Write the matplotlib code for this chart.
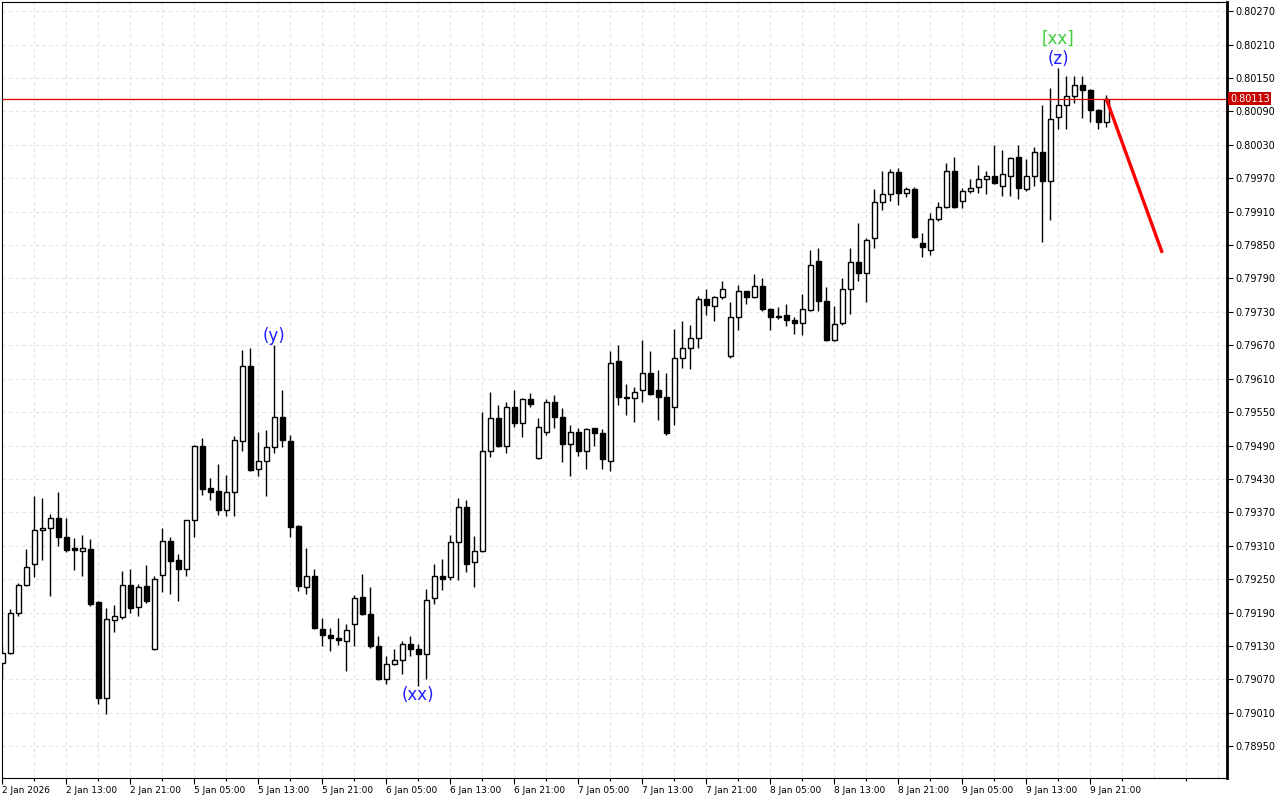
import numpy as np
import matplotlib
matplotlib.use("Agg")
import matplotlib.pyplot as plt
import matplotlib.transforms as mtransforms

# hourly bars, 2 Jan 2026 05:00 .. 9 Jan 2026 23:00
opens = [0.79100, 0.79118, 0.79189, 0.79239, 0.79278, 0.79339, 0.79341, 0.79359, 0.79325, 0.79305,
         0.79300, 0.79304, 0.79208, 0.79036, 0.79176, 0.79182, 0.79239, 0.79199, 0.79237, 0.79124,
         0.79257, 0.79318, 0.79284, 0.79268, 0.79357, 0.79489, 0.79413, 0.79408, 0.79374, 0.79406,
         0.79498, 0.79632, 0.79447, 0.79462, 0.79487, 0.79541, 0.79498, 0.79345, 0.79236, 0.79255,
         0.79160, 0.79149, 0.79144, 0.79138, 0.79169, 0.79217, 0.79187, 0.79129, 0.79071, 0.79097,
         0.79104, 0.79133, 0.79124, 0.79115, 0.79216, 0.79255, 0.79253, 0.79316, 0.79379, 0.79280,
         0.79300, 0.79481, 0.79539, 0.79489, 0.79560, 0.79530, 0.79573, 0.79467, 0.79515, 0.79568,
         0.79541, 0.79492, 0.79515, 0.79480, 0.79521, 0.79512, 0.79463, 0.79641, 0.79577, 0.79575,
         0.79589, 0.79621, 0.79589, 0.79578, 0.79560, 0.79647, 0.79666, 0.79684, 0.79754, 0.79740,
         0.79756, 0.79650, 0.79720, 0.79767, 0.79756, 0.79776, 0.79736, 0.79722, 0.79724, 0.79715,
         0.79710, 0.79733, 0.79821, 0.79749, 0.79679, 0.79710, 0.79772, 0.79819, 0.79799, 0.79862,
         0.79927, 0.79941, 0.79981, 0.79943, 0.79950, 0.79853, 0.79842, 0.79896, 0.79918, 0.79983,
         0.79929, 0.79948, 0.79954, 0.79968, 0.79975, 0.79956, 0.79975, 0.80008, 0.79950, 0.79974,
         0.80018, 0.79965, 0.80081, 0.80101, 0.80117, 0.80137, 0.80128, 0.80092, 0.80072]
highs = [0.79126, 0.79196, 0.79243, 0.79304, 0.79400, 0.79396, 0.79367, 0.79406, 0.79359, 0.79323,
         0.79329, 0.79322, 0.79210, 0.79198, 0.79203, 0.79265, 0.79268, 0.79242, 0.79275, 0.79255,
         0.79341, 0.79325, 0.79295, 0.79357, 0.79491, 0.79503, 0.79431, 0.79457, 0.79437, 0.79507,
         0.79661, 0.79665, 0.79514, 0.79517, 0.79671, 0.79589, 0.79508, 0.79348, 0.79305, 0.79269,
         0.79181, 0.79163, 0.79180, 0.79169, 0.79221, 0.79260, 0.79235, 0.79147, 0.79111, 0.79124,
         0.79138, 0.79147, 0.79133, 0.79233, 0.79277, 0.79286, 0.79330, 0.79395, 0.79392, 0.79327,
         0.79551, 0.79587, 0.79562, 0.79568, 0.79589, 0.79575, 0.79584, 0.79539, 0.79574, 0.79580,
         0.79557, 0.79526, 0.79521, 0.79521, 0.79522, 0.79519, 0.79659, 0.79670, 0.79600, 0.79595,
         0.79679, 0.79659, 0.79625, 0.79621, 0.79700, 0.79713, 0.79706, 0.79758, 0.79772, 0.79758,
         0.79785, 0.79747, 0.79778, 0.79768, 0.79798, 0.79790, 0.79737, 0.79738, 0.79744, 0.79720,
         0.79762, 0.79841, 0.79844, 0.79774, 0.79740, 0.79790, 0.79844, 0.79889, 0.79862, 0.79950,
         0.79984, 0.79986, 0.79988, 0.79955, 0.79954, 0.79871, 0.79907, 0.79927, 0.79997, 0.80009,
         0.79952, 0.79968, 0.79993, 0.79983, 0.80029, 0.80020, 0.80009, 0.80029, 0.80004, 0.80027,
         0.80101, 0.80133, 0.80169, 0.80153, 0.80153, 0.80153, 0.80130, 0.80094, 0.80119]
lows = [0.79072, 0.79115, 0.79184, 0.79237, 0.79254, 0.79284, 0.79220, 0.79310, 0.79298, 0.79266,
        0.79256, 0.79202, 0.79025, 0.79007, 0.79155, 0.79179, 0.79189, 0.79183, 0.79207, 0.79122,
        0.79226, 0.79224, 0.79211, 0.79256, 0.79326, 0.79401, 0.79392, 0.79366, 0.79364, 0.79364,
        0.79481, 0.79445, 0.79436, 0.79400, 0.79476, 0.79487, 0.79325, 0.79228, 0.79223, 0.79160,
        0.79130, 0.79120, 0.79132, 0.79085, 0.79129, 0.79185, 0.79127, 0.79069, 0.79062, 0.79095,
        0.79079, 0.79111, 0.79058, 0.79071, 0.79205, 0.79230, 0.79248, 0.79248, 0.79262, 0.79235,
        0.79298, 0.79470, 0.79487, 0.79477, 0.79523, 0.79505, 0.79559, 0.79465, 0.79508, 0.79521,
        0.79460, 0.79436, 0.79471, 0.79447, 0.79490, 0.79447, 0.79445, 0.79562, 0.79544, 0.79533,
        0.79569, 0.79580, 0.79535, 0.79508, 0.79526, 0.79629, 0.79627, 0.79666, 0.79724, 0.79713,
        0.79754, 0.79648, 0.79697, 0.79745, 0.79755, 0.79731, 0.79697, 0.79718, 0.79704, 0.79690,
        0.79688, 0.79731, 0.79731, 0.79677, 0.79677, 0.79706, 0.79726, 0.79785, 0.79747, 0.79844,
        0.79913, 0.79929, 0.79922, 0.79937, 0.79863, 0.79829, 0.79833, 0.79893, 0.79916, 0.79916,
        0.79916, 0.79943, 0.79943, 0.79941, 0.79960, 0.79939, 0.79939, 0.79932, 0.79948, 0.79957,
        0.79855, 0.79895, 0.80058, 0.80058, 0.80105, 0.80078, 0.80072, 0.80058, 0.80062]
closes = [0.79118, 0.79189, 0.79239, 0.79271, 0.79339, 0.79341, 0.79359, 0.79325, 0.79303, 0.79303,
          0.79305, 0.79206, 0.79037, 0.79178, 0.79183, 0.79239, 0.79198, 0.79235, 0.79211, 0.79251,
          0.79318, 0.79282, 0.79269, 0.79356, 0.79489, 0.79412, 0.79407, 0.79374, 0.79406, 0.79499,
          0.79632, 0.79446, 0.79462, 0.79487, 0.79542, 0.79499, 0.79344, 0.79238, 0.79255, 0.79163,
          0.79149, 0.79144, 0.79141, 0.79158, 0.79216, 0.79188, 0.79129, 0.79071, 0.79097, 0.79104,
          0.79133, 0.79124, 0.79115, 0.79212, 0.79255, 0.79251, 0.79316, 0.79379, 0.79278, 0.79300,
          0.79481, 0.79539, 0.79489, 0.79560, 0.79530, 0.79573, 0.79564, 0.79524, 0.79568, 0.79541,
          0.79492, 0.79515, 0.79480, 0.79519, 0.79512, 0.79465, 0.79638, 0.79577, 0.79575, 0.79587,
          0.79621, 0.79582, 0.79578, 0.79512, 0.79647, 0.79666, 0.79684, 0.79754, 0.79742, 0.79756,
          0.79772, 0.79720, 0.79767, 0.79756, 0.79776, 0.79735, 0.79720, 0.79720, 0.79715, 0.79710,
          0.79735, 0.79815, 0.79749, 0.79679, 0.79708, 0.79772, 0.79819, 0.79799, 0.79860, 0.79927,
          0.79941, 0.79981, 0.79943, 0.79950, 0.79865, 0.79846, 0.79896, 0.79918, 0.79983, 0.79918,
          0.79948, 0.79952, 0.79968, 0.79974, 0.79961, 0.79977, 0.80006, 0.79952, 0.79974, 0.80017,
          0.79965, 0.80076, 0.80101, 0.80117, 0.80137, 0.80128, 0.80092, 0.80072, 0.80113]

time_labels = ["2 Jan 2026", "2 Jan 13:00", "2 Jan 21:00", "5 Jan 05:00", "5 Jan 13:00",
               "5 Jan 21:00", "6 Jan 05:00", "6 Jan 13:00", "6 Jan 21:00", "7 Jan 05:00",
               "7 Jan 13:00", "7 Jan 21:00", "8 Jan 05:00", "8 Jan 13:00", "8 Jan 21:00",
               "9 Jan 05:00", "9 Jan 13:00", "9 Jan 21:00"]

# wave marks: text, bar, anchored at high/low, colour
wave_marks = [("(y)", 34, "high", "#1f1fff"),
              ("(xx)", 52, "low", "#1f1fff"),
              ("(z)", 132, "high", "#1f1fff")]
wave_top_text = "[xx]"
wave_top_bar = 132

forecast_bars_ahead = 7
forecast_price = 0.79836

o = np.array(opens)
h = np.array(highs)
l = np.array(lows)
c = np.array(closes)
x = np.arange(len(o))
up = c >= o

fig = plt.figure(figsize=(12.8, 8), dpi=100)
fig.patch.set_facecolor("white")
ax = fig.add_axes([2 / 1280, 22 / 800, 1225 / 1280, 776 / 800])

ax.set_xlim(-0.0375, 153.09)
ax.set_ylim(0.788927, 0.802867)

# grid
grid_kw = dict(color="#e3e3e3", lw=0.8, ls=(0, (3, 3)), zorder=0)
for p in np.arange(0.78950, 0.80275, 0.0006):
    ax.axhline(p, **grid_kw)
for b in range(4, 154, 4):
    ax.axvline(b, **grid_kw)

# candles
ax.vlines(x, l, h, color="black", lw=1.0, zorder=2)
body_h = np.maximum(np.abs(c - o), 0.000006)
body_b = np.minimum(o, c)
ax.bar(x, body_h, bottom=body_b, width=0.62,
       color=np.where(up, "white", "black"), edgecolor="black", lw=1.0, zorder=3)

# current price line and tag
last = closes[-1]
ax.axhline(last, color="#d40000", lw=0.9, zorder=4)
trans = mtransforms.blended_transform_factory(ax.transAxes, ax.transData)
ax.text(1.0025, last, f"{last:.5f}", transform=trans, color="white", fontsize=7,
        va="center", ha="left", clip_on=False,
        bbox=dict(facecolor="#c80000", edgecolor="none", pad=1.2))

# forecast arrow line
ax.plot([x[-1], x[-1] + forecast_bars_ahead], [last, forecast_price],
        color="#ff0000", lw=2.4, solid_capstyle="butt", zorder=5)

# wave labels
for txt, b, where, col in wave_marks:
    if where == "high":
        ax.annotate(txt, xy=(b, h[b]), xytext=(0, 0), textcoords="offset points",
                    ha="center", va="bottom", color=col, fontsize=12)
    else:
        ax.annotate(txt, xy=(b, l[b]), xytext=(0, 0), textcoords="offset points",
                    ha="center", va="top", color=col, fontsize=12)
ax.annotate(wave_top_text, xy=(wave_top_bar, h[wave_top_bar]), xytext=(0, 14),
            textcoords="offset points", ha="center", va="bottom",
            color="#3ccc3c", fontsize=12)

# axes
ax.yaxis.tick_right()
ax.set_yticks(np.arange(0.78950, 0.80275, 0.0006))
ax.set_yticklabels([f"{v:.5f}" for v in np.arange(0.78950, 0.80275, 0.0006)])
ax.tick_params(axis="y", direction="out", length=4, width=0.8, labelsize=7, pad=2)

ax.set_xticks(np.arange(0, 8 * len(time_labels), 8))
ax.set_xticklabels(time_labels)
ax.set_xticks(np.arange(4, 150, 8), minor=True)
ax.tick_params(axis="x", which="major", direction="out", length=4, width=0.8,
               labelsize=6.5, pad=2)
ax.tick_params(axis="x", which="minor", direction="out", length=2, width=0.8)
for t in ax.get_xticklabels():
    t.set_ha("left")

for s in ax.spines.values():
    s.set_color("black")
    s.set_linewidth(0.8)
ax.spines["right"].set_linewidth(2.0)

fig.savefig("out.png", dpi=100, facecolor="white")
